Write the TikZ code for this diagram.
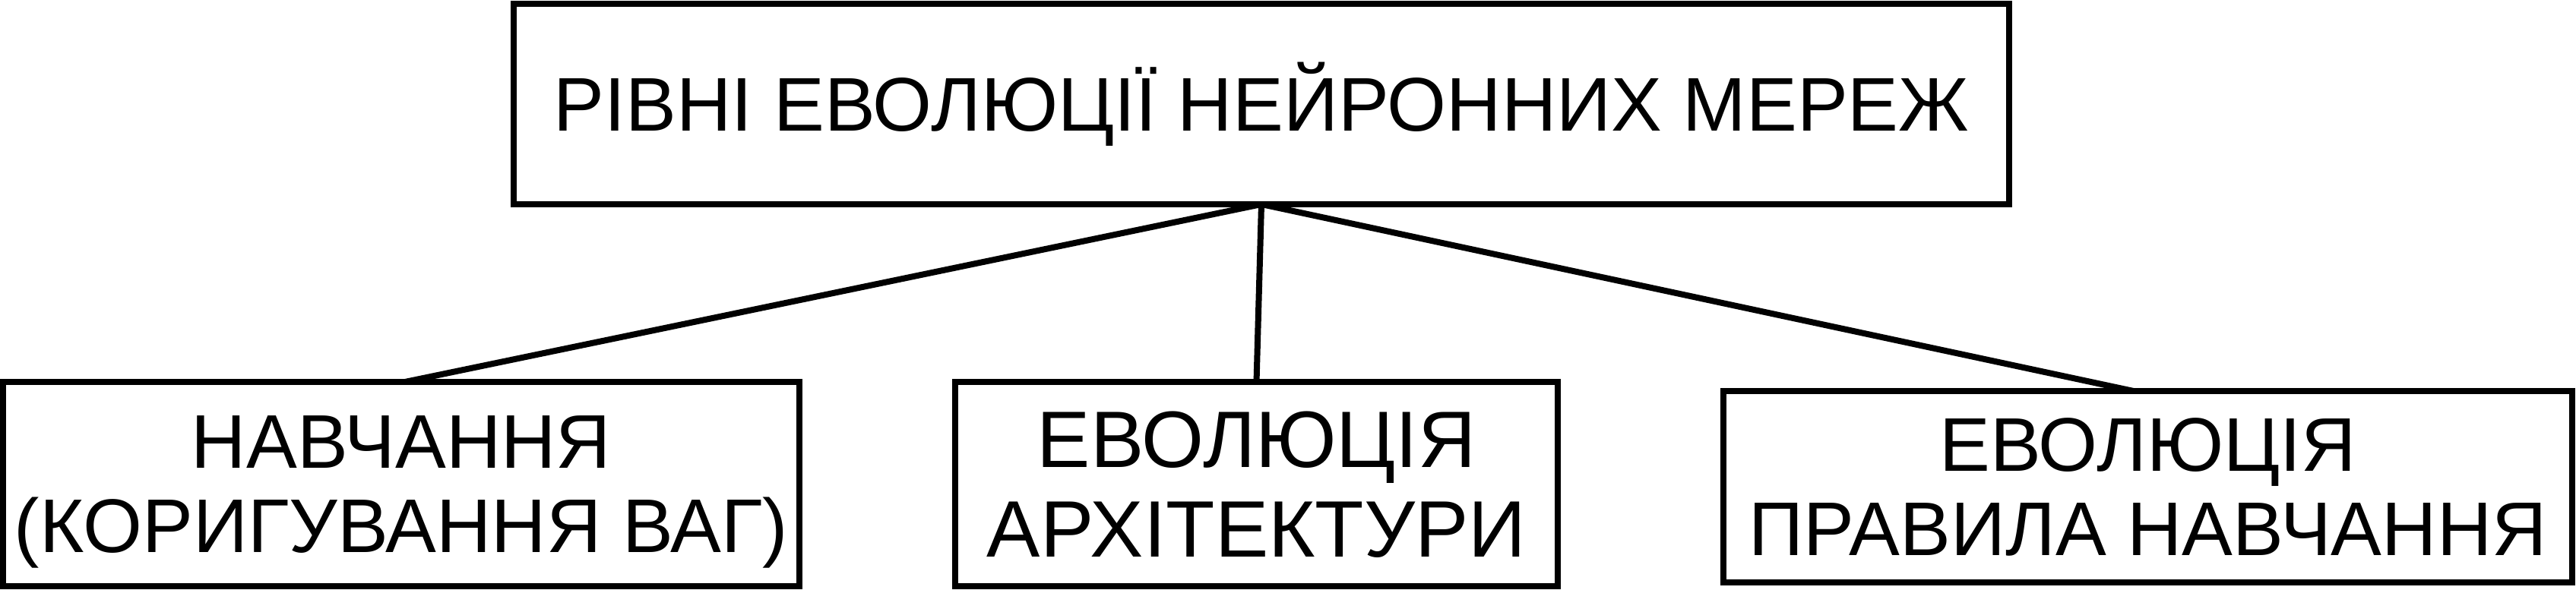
\documentclass[tikz,border=0pt]{standalone}
\usepackage{fontspec}
\setmainfont{Liberation Sans}
\usetikzlibrary{positioning}

\begin{document}
\begin{tikzpicture}[
        box/.style={draw, line width=0.08cm, outer sep=0, inner sep=0, align=center,
            font=\fontsize{28.5}{31.6}\selectfont},
        link/.style={line width=0.08cm}
    ]
    \useasboundingbox (0,0) rectangle (33.9,7.77);
    \node[box, minimum width=19.68cm, minimum height=2.64cm] (levels) at (16.60,6.40) {РІВНІ ЕВОЛЮЦІЇ НЕЙРОННИХ МЕРЕЖ};
    \node[box, minimum width=10.48cm, minimum height=2.69cm, text depth=0pt] (training) at (5.28,1.395) {НАВЧАННЯ\\(КОРИГУВАННЯ ВАГ)};
    \node[box, minimum width=7.93cm, minimum height=2.69cm, text depth=-0.1cm,
        font=\fontsize{30}{33.5}\selectfont] (arch) at (16.535,1.395) {ЕВОЛЮЦІЯ\\АРХІТЕКТУРИ};
    \node[box, minimum width=11.17cm, minimum height=2.52cm, text depth=-0.06cm] (rule) at (28.265,1.36) {ЕВОЛЮЦІЯ\\ПРАВИЛА НАВЧАННЯ};

    \draw[link] (levels.south) -- ([xshift=0.05cm]training.north);
    \draw[link] (levels.south) -- (arch.north);
    \draw[link] (levels.south) -- ([xshift=-0.19cm]rule.north);
\end{tikzpicture}
\end{document}
